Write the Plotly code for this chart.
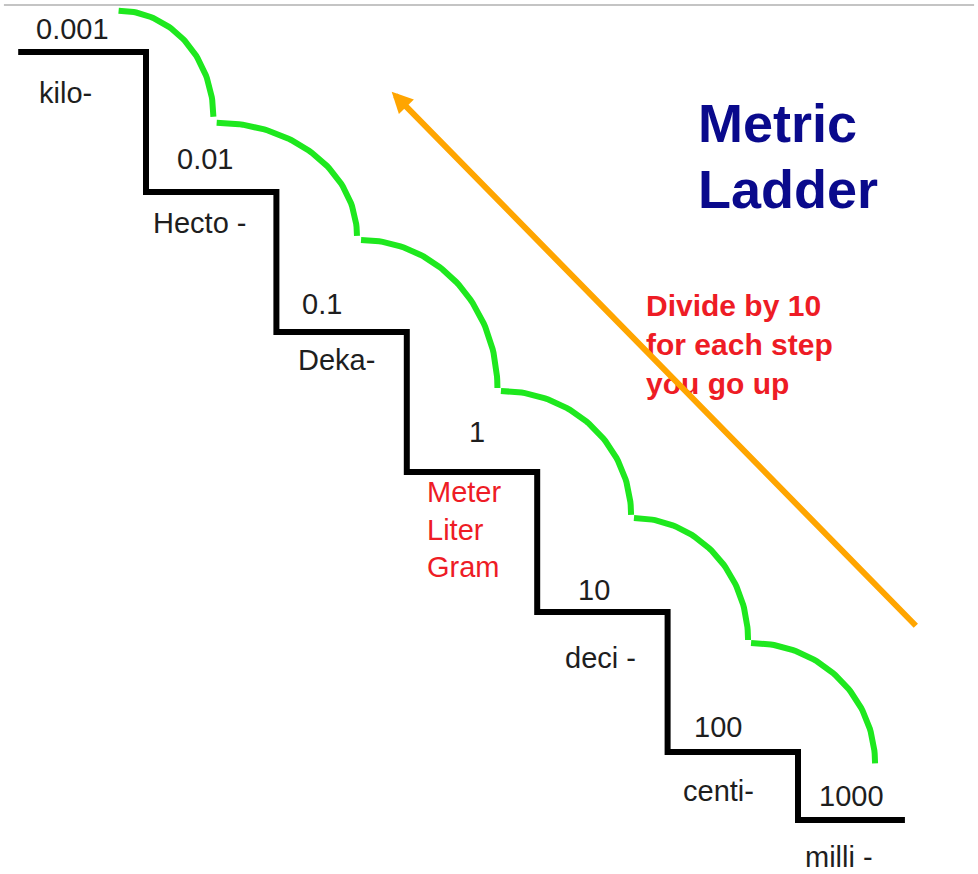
import numpy as np
import plotly.graph_objects as go

# ---------------- data ----------------
factors = ["0.001", "0.01", "0.1", "1", "10", "100", "1000"]
prefixes = ["kilo-", "Hecto -", "Deka-", "", "deci -", "centi-", "milli -"]
base_units = ["Meter", "Liter", "Gram"]
title_lines = ["Metric", "Ladder"]
note_lines = ["Divide by 10", "for each step", "you go up"]
step_index = list(range(len(factors)))

# ---------------- layout (in step units: x = tread, y = riser) ----------------
LAST_DROP = 0.486
STAIR_START, STAIR_END = 0.02, 6.82
factor_pos = [(0.436, -0.162), (1.456, 0.764), (2.347, 1.80), (3.535, 2.712),
              (4.436, 3.843), (5.383, 4.819), (6.412, 5.312)]
prefix_pos = [(0.379, 0.295), (1.41, 1.224), (2.462, 2.20), (3.139, 3.414),
              (4.482, 4.331), (5.389, 5.276), (6.316, 5.752)]
hop_start = [(0.79, -0.295), (1.542, 0.505), (2.649, 1.343), (3.722, 2.421),
             (4.742, 3.329), (5.64, 4.221)]
hop_end = [(1.517, 0.462), (2.618, 1.314), (3.695, 2.40), (4.72, 3.307),
           (5.617, 4.20), (6.591, 5.081)]
title_pos = [(5.218, 0.504), (5.218, 0.982)]
note_pos = (4.816, 2.09)
arrow_tail = (6.915, 4.109)
arrow_head = (2.884, 0.284)

FONT = "Liberation Sans, Arial, sans-serif"
BLACK_TXT = "#1e1e1e"
RED = "#ee1c25"
NAVY = "#0a0a8c"
GREEN = "#1ee81e"
ORANGE = "#ffa500"

# ---------------- stair ----------------
levels = [float(i) for i in step_index]
levels[-1] = levels[-2] + LAST_DROP
sx, sy = [STAIR_START], [levels[0]]
for i in step_index[1:]:
    sx += [i, i]
    sy += [levels[i - 1], levels[i]]
sx.append(STAIR_END)
sy.append(levels[-1])

fig = go.Figure()
fig.add_trace(go.Scatter(x=sx, y=sy, mode="lines",
                         line=dict(color="black", width=6),
                         hoverinfo="skip"))

# ---------------- green hops (quarter arcs) ----------------
t = np.linspace(0, np.pi / 2, 60)
ax_, ay_ = [], []
for (xs, ys), (xe, ye) in zip(hop_start, hop_end):
    ax_ += list(xs + (xe - xs) * np.sin(t)) + [None]
    ay_ += list(ye - (ye - ys) * np.cos(t)) + [None]
fig.add_trace(go.Scatter(x=ax_, y=ay_, mode="lines",
                         line=dict(color=GREEN, width=6),
                         connectgaps=False, hoverinfo="skip"))

annotations = []
for lab, (x, y) in zip(factors, factor_pos):
    annotations.append(dict(x=x, y=y, text=lab, showarrow=False, borderpad=0,
                            xanchor="center", yanchor="middle",
                            font=dict(family=FONT, size=29, color=BLACK_TXT)))
for lab, (x, y) in zip(prefixes, prefix_pos):
    if lab:
        annotations.append(dict(x=x, y=y, text=lab, showarrow=False, borderpad=0,
                                xanchor="center", yanchor="middle",
                                font=dict(family=FONT, size=29, color=BLACK_TXT)))
bx, by = prefix_pos[step_index[3]]
annotations.append(dict(x=bx, y=by, text="<br>".join(base_units), showarrow=False,
                        xanchor="left", yanchor="middle", align="left",
                        font=dict(family=FONT, size=29, color=RED)))
for lab, (x, y) in zip(title_lines, title_pos):
    annotations.append(dict(x=x, y=y, text="<b>%s</b>" % lab, showarrow=False,
                            xanchor="left", yanchor="middle",
                            font=dict(family=FONT, size=54, color=NAVY)))
annotations.append(dict(x=note_pos[0], y=note_pos[1],
                        text="<br>".join("<b>%s</b>" % s for s in note_lines),
                        showarrow=False, xanchor="left", yanchor="middle", align="left",
                        font=dict(family=FONT, size=30, color=RED)))
annotations.append(dict(x=arrow_head[0], y=arrow_head[1], ax=arrow_tail[0], ay=arrow_tail[1],
                        xref="x", yref="y", axref="x", ayref="y", text="",
                        showarrow=True, arrowhead=2, arrowsize=0.7, arrowwidth=6,
                        arrowcolor=ORANGE, standoff=0, startstandoff=0))

fig.update_layout(
    width=978, height=874,
    margin=dict(l=0, r=0, t=0, b=0),
    paper_bgcolor="white", plot_bgcolor="white",
    showlegend=False, hovermode=False,
    xaxis=dict(range=[-0.1196, 7.3804], visible=False, fixedrange=True),
    yaxis=dict(range=[5.8714, -0.3714], visible=False, fixedrange=True),
    annotations=annotations,
    shapes=[dict(type="line", xref="paper", yref="y", x0=0.004, x1=0.996,
                 y0=-0.336, y1=-0.336, line=dict(color="#c4c4c4", width=2))],
)

fig.write_html("out.html",
               config={"displayModeBar": False},
               post_script="document.body.style.margin='0';"
                           "document.documentElement.style.overflow='hidden';")
